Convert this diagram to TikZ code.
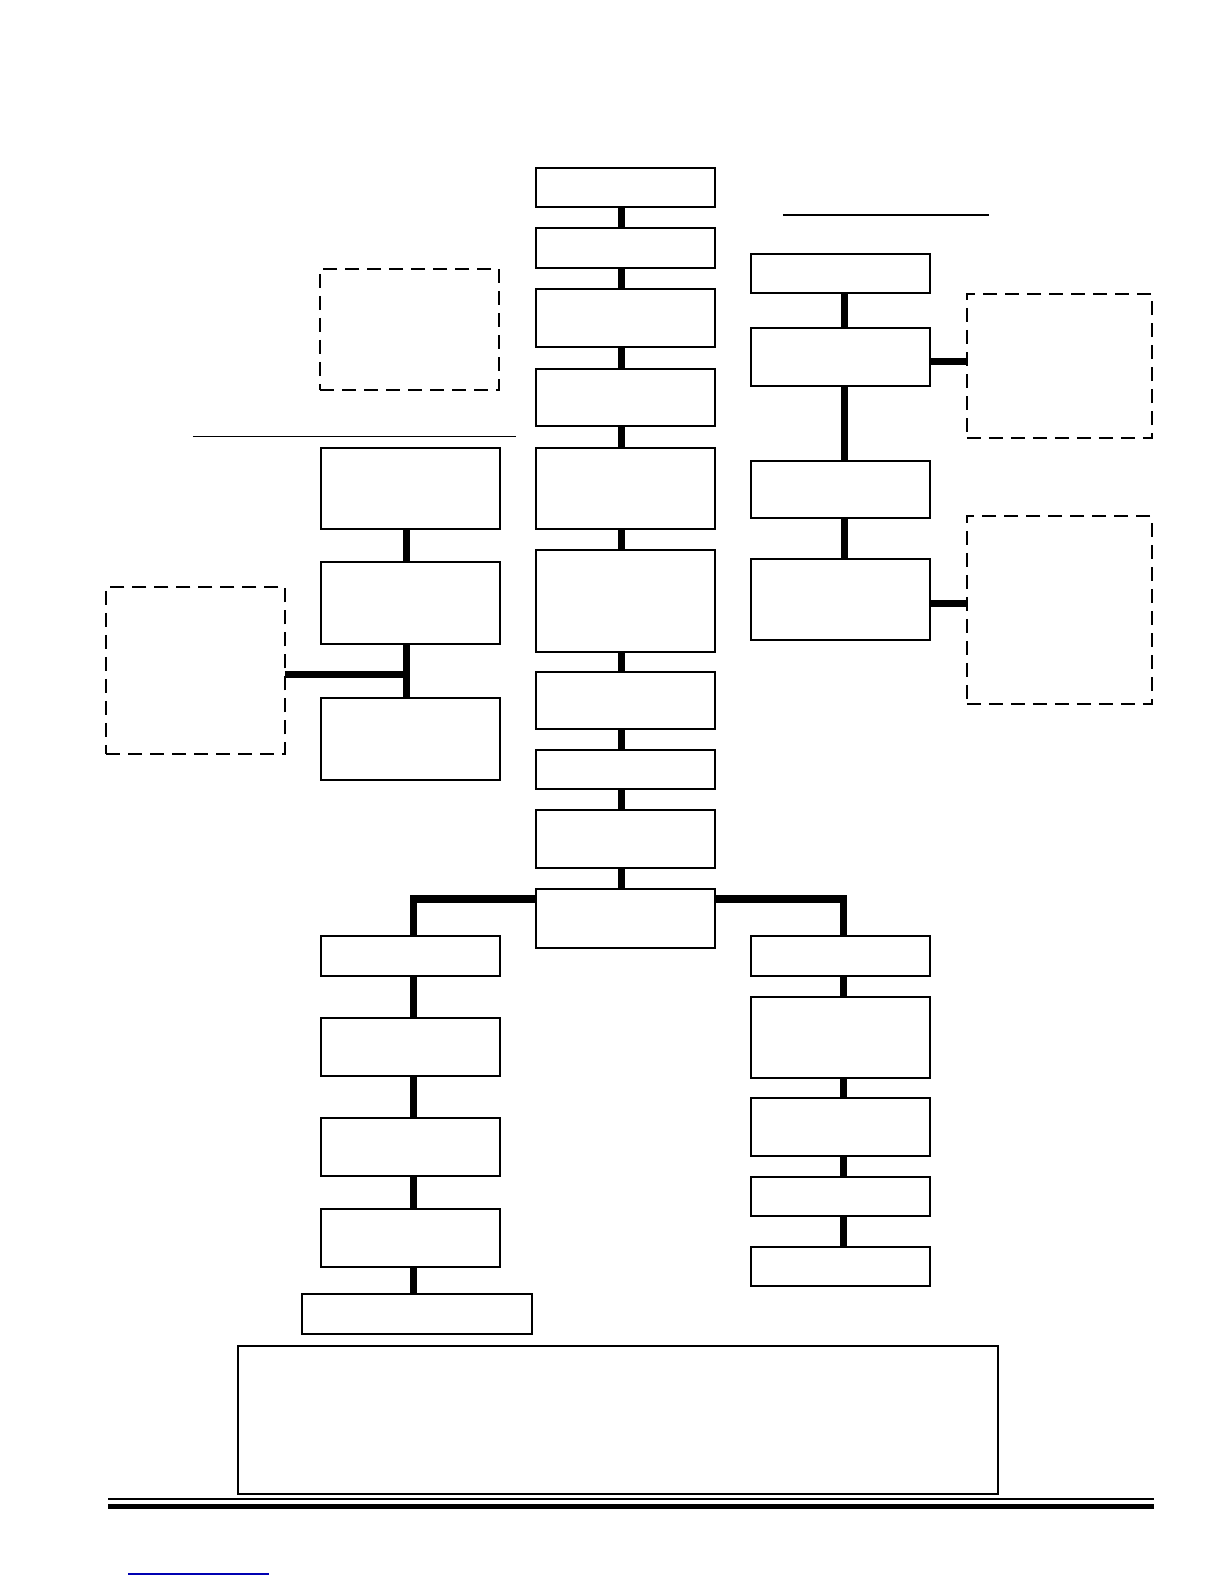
\documentclass[tikz,border=0pt]{standalone}
\usetikzlibrary{positioning}

\begin{document}
\begin{tikzpicture}[
x=0.505pt, y=-0.505pt,
box/.style={
draw,
line width=1pt,
minimum width=89.4pt,
inner sep=0pt,
outer sep=0pt
},
dbox/.style={
draw,
dashed,
dash pattern=on 7pt off 4pt,
line width=1pt,
inner sep=0pt,
outer sep=0pt
},
link/.style={line width=3.6pt},
rule/.style={line width=0.8pt}
]

\useasboundingbox (0,0) rectangle (1212,1568);

% main column
\node[box, minimum height=19.7pt] (c1)  at (619.5,185.5) {};
\node[box, minimum height=19.7pt] (c2)  at (619.5,245.5) {};
\node[box, minimum height=28.8pt] (c3)  at (619.5,314.5) {};
\node[box, minimum height=28.8pt] (c4)  at (619.5,393.5) {};
\node[box, minimum height=40.9pt] (c5)  at (619.5,483.5) {};
\node[box, minimum height=51pt]   (c6)  at (619.5,594.5) {};
\node[box, minimum height=28.8pt] (c7)  at (619.5,693.5) {};
\node[box, minimum height=19.7pt] (c8)  at (619.5,761.5) {};
\node[box, minimum height=28.8pt] (c9)  at (619.5,830.5) {};
\node[box, minimum height=29.3pt] (c10) at (619.5,909) {};

\foreach \a/\b in {c1/c2,c2/c3,c3/c4,c4/c5,c5/c6,c6/c7,c7/c8,c8/c9,c9/c10}
  \draw[link] ([xshift=-2pt]\a.south) -- ([xshift=-2pt]\b.north);

% upper left branch
\draw[rule] (191,432) -- (511,432);
\node[dbox, minimum width=89.4pt, minimum height=60.6pt] (dtl) at (405.5,326) {};
\node[box, minimum height=40.9pt] (l1) at (406,483.5) {};
\node[box, minimum height=40.9pt] (l2) at (406,596.5) {};
\node[box, minimum height=40.9pt] (l3) at (406,731.5) {};
\node[dbox, minimum width=89.4pt, minimum height=83.3pt] (dl) at (193.5,663.5) {};

\draw[link] ([xshift=-2pt]l1.south) -- ([xshift=-2pt]l2.north);
\draw[link] ([xshift=-2pt]l2.south) -- ([xshift=-2pt]l3.north);
\draw[link] ([yshift=-2pt]dl.east) -- ([xshift=-2pt,yshift=-2pt]dl.east -| l2.south);

% upper right branch
\draw[rule] (775,213) -- (979,213);
\node[box, minimum height=19.7pt] (r1) at (832,270.5) {};
\node[box, minimum height=28.8pt] (r2) at (832,353.5) {};
\node[box, minimum height=28.8pt] (r3) at (832,484.5) {};
\node[box, minimum height=40.9pt] (r4) at (832,593.5) {};
\node[dbox, minimum width=92.4pt, minimum height=72.2pt] (dra) at (1048.5,362.5) {};
\node[dbox, minimum width=92.4pt, minimum height=93.9pt] (drb) at (1048.5,604) {};

\foreach \a/\b in {r1/r2,r2/r3,r3/r4}
  \draw[link] ([xshift=2pt]\a.south) -- ([xshift=2pt]\b.north);
\draw[link] ([yshift=-2pt]r2.east) -- ([yshift=-2pt]r2.east -| dra.west);
\draw[link] ([yshift=-2pt]r4.east) -- ([yshift=-2pt]r4.east -| drb.west);

% lower left branch
\node[box, minimum height=19.7pt] (bl1) at (406.5,946.5) {};
\node[box, minimum height=28.8pt] (bl2) at (406.5,1036.5) {};
\node[box, minimum height=28.8pt] (bl3) at (406.5,1135.5) {};
\node[box, minimum height=28.8pt] (bl4) at (406.5,1225.5) {};
\node[box, minimum width=115.1pt, minimum height=20.2pt] (bl5) at (413,1301) {};

\draw[link] (c10.north west) ++(0,10) -| ([xshift=1.5pt]bl1.north);
\foreach \a/\b in {bl1/bl2,bl2/bl3,bl3/bl4}
  \draw[link] ([xshift=1.5pt]\a.south) -- ([xshift=1.5pt]\b.north);
\draw[link] ([xshift=1.5pt]bl4.south) -- ([xshift=1.5pt]bl4.south |- bl5.north);

% lower right branch
\node[box, minimum height=19.7pt] (br1) at (832,946.5) {};
\node[box, minimum height=40.4pt] (br2) at (832,1027) {};
\node[box, minimum height=28.8pt] (br3) at (832,1115.5) {};
\node[box, minimum height=19.7pt] (br4) at (832,1184.5) {};
\node[box, minimum height=19.7pt] (br5) at (832,1253.5) {};

\draw[link] (c10.north east) ++(0,10) -| ([xshift=1.5pt]br1.north);
\foreach \a/\b in {br1/br2,br2/br3,br3/br4,br4/br5}
  \draw[link] ([xshift=1.5pt]\a.south) -- ([xshift=1.5pt]\b.north);

% note box and footer
\node[box, minimum width=379.8pt, minimum height=74.2pt] (note) at (612,1405.5) {};

\draw[rule] (107,1484) -- (1142,1484);
\draw[line width=2.6pt] (107,1491.5) -- (1142,1491.5);
\draw[blue!70!black, line width=0.6pt] (127,1558) -- (266,1558);

\end{tikzpicture}
\end{document}
